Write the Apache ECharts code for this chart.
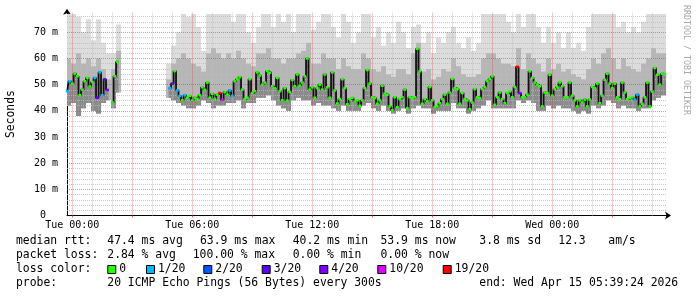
<!DOCTYPE html>
<html><head><meta charset="utf-8">
<script src="https://cdn.jsdelivr.net/npm/echarts@6/dist/echarts.min.js"></script>
<style>html,body{margin:0;padding:0;background:#fff}#c{width:697px;height:297px}</style>
</head><body><div id="c"></div>
<script>
// ---------------- DATA ----------------
// median RTT samples (ms), one every 7.5 min starting Mon 23:45 (hour -0.25 relative to Tue 00:00)
const startHour = -0.25;
const stepHours = 0.125;
const median = [
47.5,51.3,50.4,54.2,53.2,46,48.1,51.3,52.6,49.3,51,52.6,45,54.7,46,52,48,null,43.2,53.2,58.8,
null,null,null,null,null,null,null,null,null,null,null,null,null,null,null,null,null,null,null,null,
48.7,50.4,55.2,47.8,45.7,44,46,45,45.7,44,45,44.6,46,49,48,50.8,45,46.5,44.6,
46.2,46.8,44.2,47.2,46.2,47.8,45.7,51.3,52.1,52.9,48.1,44.5,45,52.1,46.8,47.5,54.7,53.5,50,50.8,
55.2,54.6,49.4,48.7,52.6,47.5,44,48.7,43.9,47.2,51.8,49.4,53.9,49.6,50.8,53.2,60,48.1,49,45,
48.7,50,48.1,53.9,49,45,54.7,47.8,42.8,44.5,52.1,48.7,42.5,44.5,45,43.5,44,41.9,44,48.7,
55.6,50.4,45.2,44.9,42.7,44,49.6,46.6,46.2,41.7,40.2,45.2,41.4,44.5,45.2,48.1,41,45.2,44.9,45.2,
63.7,55.1,42.7,44.5,43.6,49.1,44,41.4,41.7,42.9,44.5,46.2,42.7,47,52.2,48.7,48.3,42.7,46.8,44.5,
44,40.6,43.2,48.3,45.2,44.9,48.3,49.1,51.3,52.2,53.2,42.3,45.2,47,44.5,42.9,46.8,47.4,45.2,49.1,
56.8,46.8,45.2,45.2,46.2,55.1,52.6,50.8,50,49.4,41.7,47,46.8,53.8,45.8,48.3,49.1,50.8,49.4,45.2,
45.2,50.8,45.8,44,41.7,44,43.2,44.3,41.7,44.3,49.1,48.7,50.4,42.9,45.8,51.9,54.2,50.4,48.7,50.4,
45.2,44.5,50.8,47,44.5,44.9,45.2,44.3,46.2,41.7,42.7,45.2,50.8,41.7,47.4,56.4,53.8,50,54.2,53.9
];
// pings lost (of 20) at the listed sample indexes; all others 0
const lossIndex = [0,1,11,12,13,14,15,16,41,42,44,45,47,61,62,65,66,180,181,227,228];
const lossCount = [1,1,1,3,1,1,3,4,1,3,1,1,1,19,10,1,1,19,4,1,1];

// smoke envelope, one slot per 15 min (covers two median samples)
const smokeHi = [77,77,76,70,75,67,75,66,62,62,73,null,null,null,null,null,null,null,null,null,
58,65,70,77,76,77,72,63,77,77, 77,77,77,74,77,77,70,66,72,77, 77,72,77,74,77,70,77,77,77,71,
74,77,77,72,68,77,74,66,70,77, 77,68,72,65,70,66,74,70,64,72, 73,66,70,62,68,66,70,72,66,64,
68,63,66,77,77,77,77,77,74,70, 77,72,77,77,72,66,72,66,70,64, 70,64,66,63,72,77,77,77,77,77,
72,74,70,72,70,74,77,77,77,77];
const smokeMid = [60,58,62,58,60,57,60,56,52,56,63,null,null,null,null,null,null,null,null,null,
52,58,60,62,60,58,57,55,62,64, 62,60,62,60,63,60,58,57,62,62, 64,60,60,58,60,60,62,63,66,58,
58,62,60,60,56,60,57,56,56,62, 60,56,55,57,54,53,56,56,54,62, 66,55,56,52,53,56,55,60,57,54,
53,53,54,60,62,62,60,58,58,57, 64,56,62,60,58,55,60,56,58,55, 56,54,53,52,56,60,58,62,64,60,
56,60,57,56,55,58,60,64,62,62];
const smokeLo = [42,43,38,41,43,40,39,43,44,41,47,null,null,null,null,null,null,null,null,null,
45,44,43,42,41,41,42,44,43,41, 42,42,43,43,44,41,43,43,45,45, 46,44,42,41,40,44,45,44,44,42,
43,42,42,41,40,42,40,40,40,42, 43,41,40,42,40,39,40,41,39,41, 42,41,41,39,40,40,40,43,41,41,
39,40,41,42,44,41,41,41,41,41, 44,43,44,43,40,40,42,41,42,41, 41,40,39,40,39,42,41,42,44,43,
41,42,41,41,40,41,41,44,45,46];
const smokeStep = 0.25;

const xTickHours = [0, 6, 12, 18, 24];
const xTickLabels = ['Tue 00:00', 'Tue 06:00', 'Tue 12:00', 'Tue 18:00', 'Wed 00:00'];
const yTickValues = [0, 10, 20, 30, 40, 50, 60, 70];

const lossLevels = [0, 1, 2, 3, 4, 10, 19];
const lossLabels = ['0', '1/20', '2/20', '3/20', '4/20', '10/20', '19/20'];
const lossColors = ['#26ff00', '#00b8ff', '#0059ff', '#5e00ff', '#7e00ff', '#dd00ff', '#ff0000'];

const rowMedian = ['median rtt:', '47.4 ms avg', '63.9 ms max', '40.2 ms min', '53.9 ms now', '3.8 ms sd', '12.3', 'am/s'];
const rowLoss = ['packet loss:', '2.84 % avg', '100.00 % max', '0.00 % min', '0.00 % now'];
const rowProbe = ['probe:', '20 ICMP Echo Pings (56 Bytes) every 300s', 'end: Wed Apr 15 05:39:24 2026'];
const rowColorTitle = 'loss color:';
const credit = 'RRDTOOL / TOBI OETIKER';

// ---------------- LAYOUT ----------------
const FONT = '"DejaVu Sans Mono", monospace';
const LF = 'normal 11.4px ' + FONT;
const xMin = -0.265, xMax = 29.735;
const rowMedianX = [16, 107.3, 200, 292.7, 380.5, 479.3, 558.3, 608.3];
const rowLossX = [16, 107.3, 192.7, 292.7, 380.5];
const rowProbeX = [16, 107.3, 479.3];
const boxX = [107.3, 146, 203.3, 261.7, 319.3, 377.3, 442.7];
const rowY = [241, 255, 269, 283];
const tickHours = [];
for (let h = 0; h <= 27; h += 3) tickHours.push(h);

function lossColor(n) {
  let c = lossColors[0];
  for (let k = 0; k < lossLevels.length; k++) if (n >= lossLevels[k]) c = lossColors[k];
  return c;
}
const lossMap = {};
lossIndex.forEach((idx, k) => { lossMap[idx] = lossCount[k]; });

const medianData = median.map((v, i) => {
  const t = startHour + i * stepHours;
  if (v == null) return { value: [t, '-'] };
  return { value: [t, v], itemStyle: { color: lossColor(lossMap[i] || 0) } };
});

// per-sample dark core: from slot floor up to the median value
const coreData = [];
median.forEach((v, i) => {
  if (v == null) return;
  const j = Math.floor(i / 2);
  if (smokeLo[j] == null) return;
  const t = startHour + i * stepHours;
  coreData.push([t - stepHours / 2, t + stepHours / 2, smokeLo[j], v]);
});

const smokeData = [];
smokeHi.forEach((hi, j) => {
  if (hi == null) return;
  const t0 = startHour + j * smokeStep - stepHours / 2;
  smokeData.push([t0, t0 + smokeStep, smokeLo[j], smokeMid[j], hi]);
});

// grid lines (rrdtool style) as mark lines
const minorColor = 'rgba(185,185,185,0.75)';
const majorColor = 'rgba(215,60,60,0.55)';
const gridLines = [];
for (let h = 0; h <= 29; h++) {
  gridLines.push({ xAxis: h, lineStyle: { color: h % 3 === 0 ? majorColor : minorColor, type: [1, 1], width: 1 } });
}
for (let v = 2; v <= 76; v += 2) {
  gridLines.push({ yAxis: v, lineStyle: { color: v % 10 === 0 ? majorColor : minorColor, type: [1, 1], width: 1 } });
}

const graphics = [];
function txt(x, y, s, extra) {
  graphics.push(Object.assign({ type: 'text', x: x, y: y, silent: true,
    style: { text: s, font: LF, fill: '#000', textVerticalAlign: 'middle' } }, extra || {}));
}
rowMedian.forEach((s, k) => txt(rowMedianX[k], rowY[0], s));
rowLoss.forEach((s, k) => txt(rowLossX[k], rowY[1], s));
txt(16, rowY[2], rowColorTitle);
lossLabels.forEach((s, k) => {
  graphics.push({ type: 'rect', silent: true, shape: { x: boxX[k] + 0.5, y: 265.5, width: 8, height: 8 },
    style: { fill: lossColors[k], stroke: '#000', lineWidth: 1 } });
  txt(boxX[k] + 12, rowY[2], s);
});
rowProbe.forEach((s, k) => txt(rowProbeX[k], rowY[3], s));
graphics.push({ type: 'text', x: 686.5, y: 60, rotation: -Math.PI / 2, silent: true,
  style: { text: credit, font: 'normal 8.3px ' + FONT, fill: '#a8a8a8', textAlign: 'center', textVerticalAlign: 'middle' } });

const chart = echarts.init(document.getElementById('c'), null, { renderer: 'canvas' });
chart.setOption({
  animation: false,
  backgroundColor: '#fff',
  grid: { left: 67, right: 30, top: 12.7, bottom: 81.5, containLabel: false, outerBoundsMode: 'none' },
  xAxis: {
    type: 'value', min: xMin, max: xMax,
    axisLine: { show: true, onZero: false, lineStyle: { color: '#000', width: 1 }, symbol: ['none', 'arrow'], symbolSize: [6, 6], symbolOffset: [0, 4] },
    axisTick: { show: true, customValues: tickHours, length: 2, lineStyle: { color: 'rgba(200,40,40,0.7)' } },
    splitLine: { show: false },
    axisLabel: { customValues: xTickHours, margin: 5, color: '#000', fontFamily: FONT, fontSize: 10,
      formatter: (v) => { const k = xTickHours.indexOf(Math.round(v)); return k >= 0 ? xTickLabels[k] : ''; } }
  },
  yAxis: {
    type: 'value', min: 0, max: 77.5, interval: 10,
    name: 'Seconds', nameLocation: 'middle', nameGap: 50, nameRotate: 90,
    nameTextStyle: { fontFamily: FONT, fontSize: 11.4, color: '#000' },
    axisLine: { show: true, onZero: false, lineStyle: { color: '#000', width: 1 }, symbol: ['none', 'arrow'], symbolSize: [6, 6], symbolOffset: [0, 4] },
    axisTick: { show: false },
    splitLine: { show: false },
    axisLabel: { margin: 9, color: '#000', fontFamily: FONT, fontSize: 10,
      formatter: (v) => (yTickValues.indexOf(v) < 0 ? '' : (v === 0 ? '0  ' : v + ' m')) }
  },
  graphic: graphics,
  series: [
    {
      type: 'custom', z: 1, clip: true, silent: true,
      data: smokeData,
      encode: { x: [0, 1], y: [2, 3, 4] },
      renderItem: (params, api) => {
        const t0 = api.value(0), t1 = api.value(1);
        const pLo = api.coord([t0, api.value(2)]);
        const pMid = api.coord([t1, api.value(3)]);
        const pHi = api.coord([t1, api.value(4)]);
        const w = pHi[0] - pLo[0];
        return { type: 'group', children: [
          { type: 'rect', shape: { x: pLo[0], y: pHi[1], width: w, height: pLo[1] - pHi[1] }, style: { fill: '#dcdcdc' } },
          { type: 'rect', shape: { x: pLo[0], y: pMid[1], width: w, height: pLo[1] - pMid[1] }, style: { fill: '#b6b6b6' } }
        ] };
      },
      markLine: { silent: true, symbol: ['none', 'none'], label: { show: false }, animation: false, data: gridLines }
    },
    {
      type: 'custom', z: 2, clip: true, silent: true,
      data: coreData,
      encode: { x: [0, 1], y: [2, 3] },
      renderItem: (params, api) => {
        const p0 = api.coord([api.value(0), api.value(2)]);
        const p1 = api.coord([api.value(1), api.value(3)]);
        return { type: 'rect', shape: { x: p0[0], y: p1[1], width: p1[0] - p0[0], height: p0[1] - p1[1] },
          style: { fill: '#8a8a8a' } };
      }
    },
    {
      type: 'line', z: 6, silent: true,
      data: medianData,
      step: 'middle',
      connectNulls: false,
      lineStyle: { color: '#111', width: 1.8 },
      symbol: 'rect', symbolSize: [3, 2.5], showSymbol: true, showAllSymbol: true,
      itemStyle: { color: '#26ff00' }
    }
  ]
});
</script>
</body></html>
